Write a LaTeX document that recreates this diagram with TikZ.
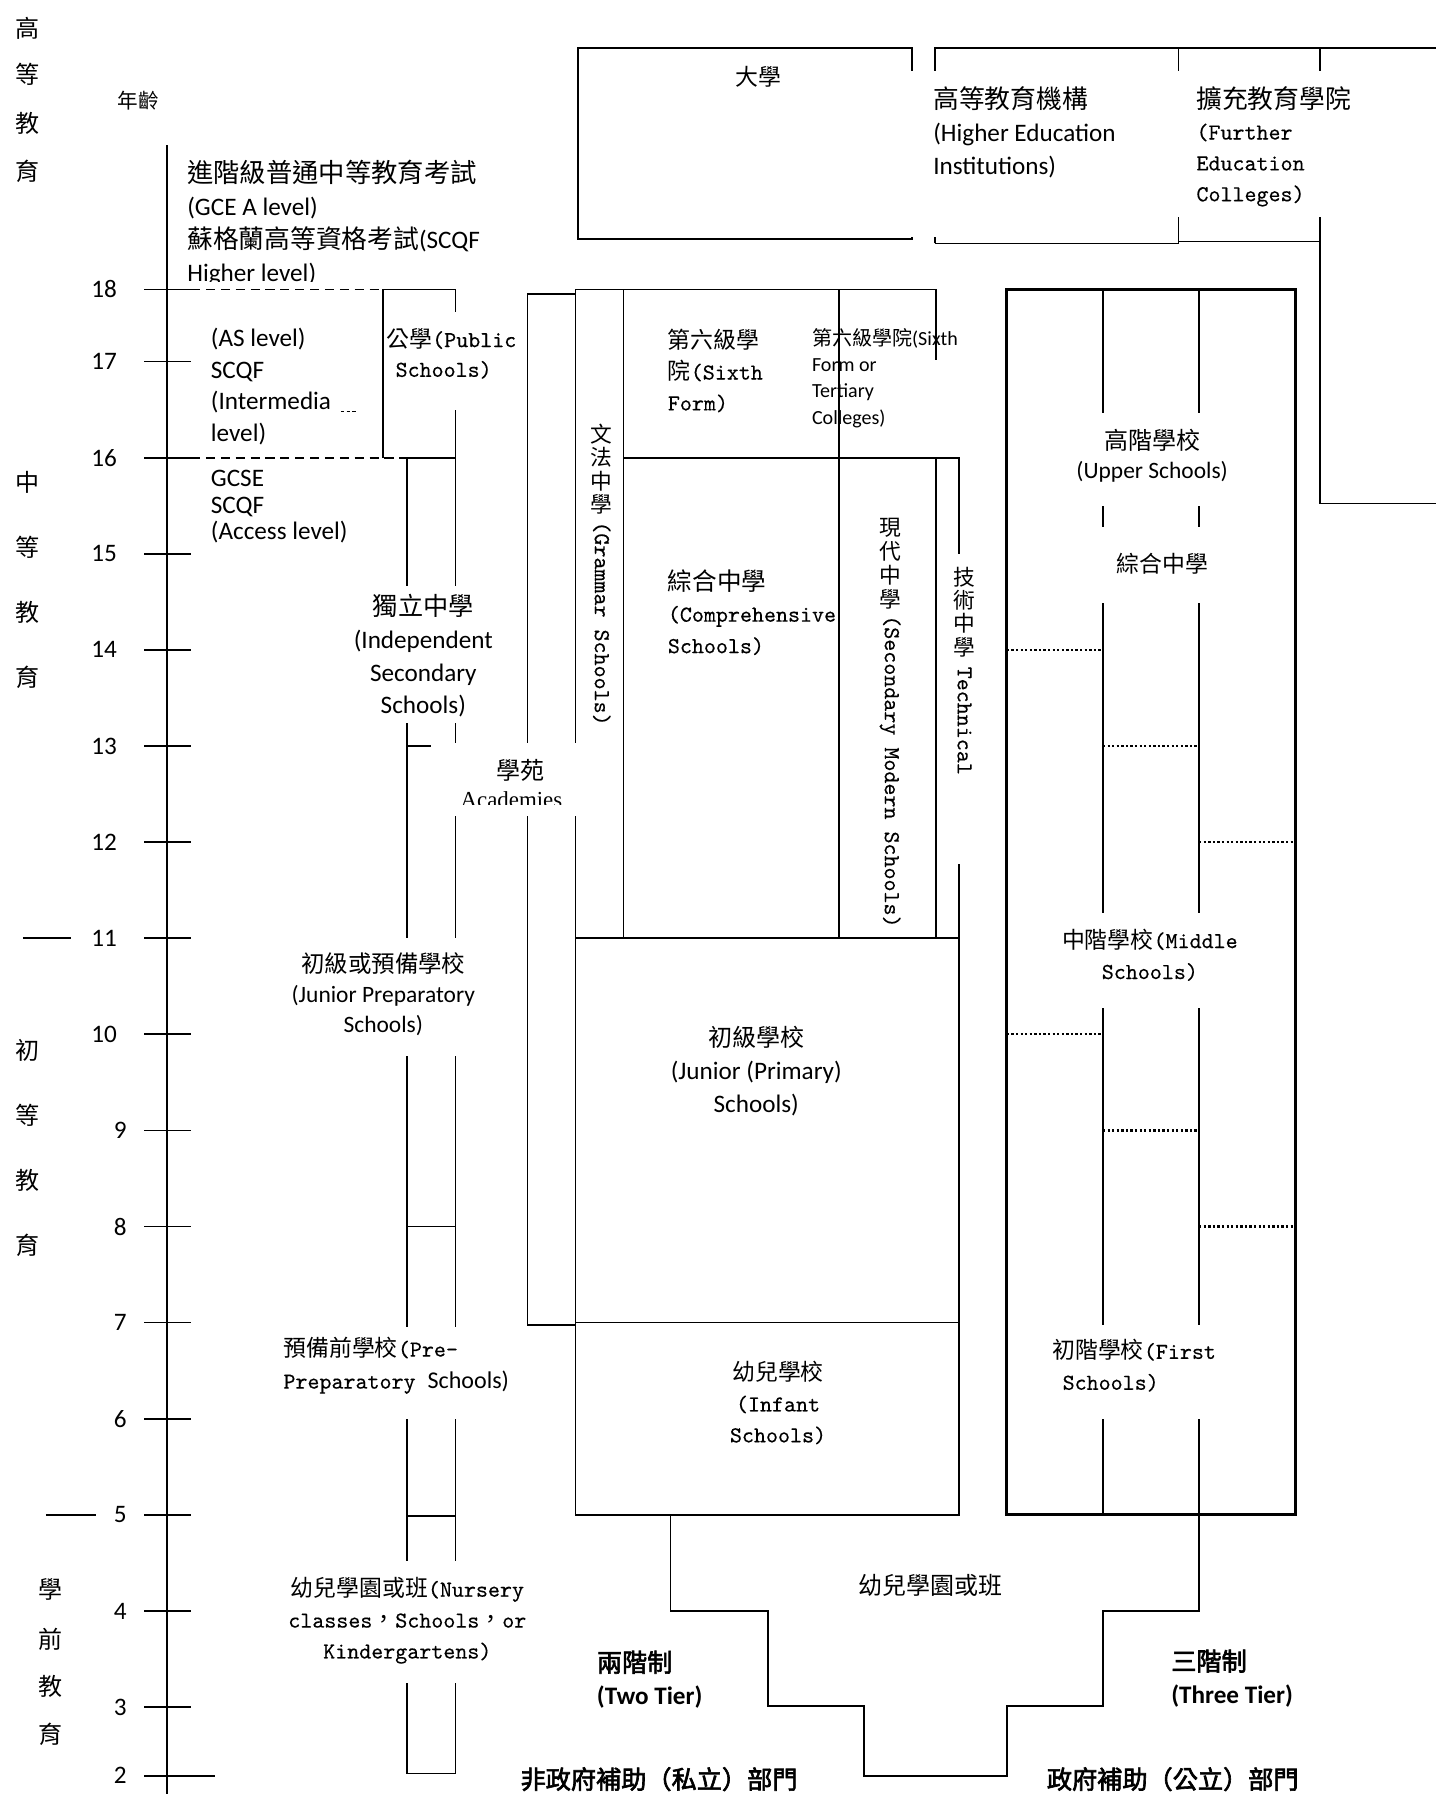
\documentclass[tikz,border=0pt]{standalone}
\usepackage{fontspec}
\setmainfont{Carlito}
\setmonofont[FakeBold=0.3]{lmmono10-regular.otf}
\newfontfamily\zh[AutoFakeBold=2.5]{Noto Sans CJK TC}
\newfontfamily\tms{Liberation Serif}

\begin{document}
\begin{tikzpicture}[
  x=1pt, y=-1pt,
  line width=1.5pt,
  dashln/.style={dash pattern=on 8pt off 5pt},
  dotln/.style={line width=2pt, dash pattern=on 2pt off 2pt},
  outerbox/.style={line width=2.4pt},
  txt/.style={inner sep=0pt, font=\fontsize{22}{28}\selectfont},
  mono/.style={inner sep=0pt, font=\fontsize{20}{27}\selectfont\ttfamily},
  cjk/.style={inner sep=0pt, font=\fontsize{21}{28}\selectfont\zh}
]
  \useasboundingbox (0,0) rectangle (1255,1568);

  % age axis
  \draw (146,127) -- (146,1568);
  \foreach \a/\y in {18/253,17/316,16/400,15/484,14/568,13/652,12/736,11/820,10/904}{
    \draw (126,\y) -- (167,\y);
    \node[txt] (age\a) at (91,\y) {\a};
  }
  \foreach \a/\y in {9/988,8/1072,7/1156,6/1240,5/1324,4/1408,3/1492}{
    \draw (126,\y) -- (167,\y);
    \node[txt] (age\a) at (105,\y) {\a};
  }
  \draw (126,1552) -- (188,1552);
  \node[txt] (age2) at (105,1552) {2};
  \draw (20,820) -- (62,820) (40,1324) -- (84,1324);

  \foreach \c/\x/\y in {高/24/25,等/24/65,教/24/108,育/24/150,中/24/422,等/24/478,教/24/535,育/24/592,
                        初/24/918,等/24/975,教/24/1032,育/24/1088,學/44/1389,前/44/1433,教/44/1474,育/44/1516}
    \node[cjk] (stage\y) at (\x,\y) {\c};

  \node[cjk, font=\fontsize{18}{18}\selectfont\zh] (agehead) at (121,88) {年齡};

  % independent sector
  \draw[dashln] (167,253) -- (335,253);
  \draw[dashln] (167,400) -- (352,400);
  \draw (335,253) -- (398,253) (352,400) -- (398,400) (335,253) -- (335,400);
  \draw (398,253) -- (398,1550) -- (356,1550) -- (356,400);
  \draw (356,652) -- (377,652) (356,1072) -- (398,1072) (356,1325) -- (398,1325);
  \draw[line width=1pt, dash pattern=on 3pt off 2pt] (298,360) -- (312,360);

  % academies
  \draw (503,257) -- (461,257) -- (461,1158) -- (503,1158);

  % two tier
  \draw (503,253) -- (818,253) (503,253) -- (503,1324) -- (838,1324) -- (838,400) -- (545,400);
  \draw (545,253) -- (545,820) (733,253) -- (733,820) (818,253) -- (818,315) (818,400) -- (818,820);
  \draw (503,820) -- (838,820) (503,1156) -- (838,1156);

  % three tier
  \draw[outerbox] (880,253) rectangle (1132,1324);
  \draw (964,253) -- (964,1324) (1048,253) -- (1048,1324);
  \foreach \xa/\y in {880/568,964/652,1048/736,880/904,964/988,1048/1072}
    \draw[dotln] (\xa,\y) -- ++(84,0);

  % nursery steps
  \draw (586,1324) |- (671,1408) |- (755,1491) |- (880,1552) |- (964,1491) |- (1048,1408) -- (1048,1324);

  % higher education
  \draw (505,42) rectangle (797,209);
  \draw (817,212.7) -- (817,42) -- (1255,42);
  \draw (817,212.7) -- (1030,212.7) -- (1030,42);
  \draw (1030,211) -- (1154,211);
  \draw (1154,42) -- (1154,440) -- (1255,440);

  % text boxes
  \fill[white] (338,273) rectangle (455,358);
  \fill[white] (300,512) rectangle (440,632);
  \fill[white] (395,649) rectangle (507,713);
  \fill[white] (250,820) rectangle (420,923);
  \fill[white] (240,1160) rectangle (455,1240);
  \fill[white] (240,1364) rectangle (470,1471);
  \fill[white] (822,484) rectangle (862,755);
  \fill[white] (930,361) rectangle (1085,442);
  \fill[white] (950,461) rectangle (1062,527);
  \fill[white] (925,798) rectangle (1090,881);
  \fill[white] (912,1158) rectangle (1075,1240);
  \fill[white] (795,62) rectangle (1026,207);
  \fill[white] (1026,62) rectangle (1190,190);

  \begin{scope}
    \clip (150,110) rectangle (520,246);
    \node[txt, anchor=north west, align=left, font=\fontsize{22}{29}\selectfont] (exam) at (163,139)
      {{\zh\fontsize{23}{29}\selectfont 進階級普通中等教育考試}\\(GCE A level)\\{\zh\fontsize{22.5}{29}\selectfont 蘇格蘭高等資格考試}(SCQF\\Higher level)};
  \end{scope}
  \node[txt, anchor=north west, align=left, font=\fontsize{22}{27.7}\selectfont] (aslevel) at (183.6,286)
    {(AS level)\\SCQF\\(Intermedia\\level)};
  \node[txt, anchor=north west, align=left, font=\fontsize{22}{23.4}\selectfont] (gcse) at (183.6,410)
    {GCSE\\SCQF\\(Access level)};

  \node[mono, anchor=north west, align=left, font=\fontsize{20}{26}\selectfont\ttfamily] (public) at (337,286)
    {{\zh 公學}(Public\\\hspace*{8pt}Schools)};
  \node[txt, anchor=north, align=center, font=\fontsize{22}{28.5}\selectfont] (indep) at (370,519)
    {{\zh 獨立中學}\\(Independent\\Secondary\\Schools)};
  \node[cjk] (acad) at (455,673) {學苑};
  \begin{scope}
    \clip (395,649) rectangle (507,703);
    \node[inner sep=0pt, font=\fontsize{20}{20}\selectfont\tms] (acaden) at (447,699) {Academies};
  \end{scope}
  \node[txt, anchor=north, align=center, font=\fontsize{20.5}{26}\selectfont] (jprep) at (335,832)
    {{\zh 初級或預備學校}\\(Junior Preparatory\\Schools)};
  \node[mono, anchor=north west, align=left, font=\fontsize{20}{28}\selectfont\ttfamily] (preprep) at (247,1168)
    {{\zh 預備前學校}(Pre-\\Preparatory {\rmfamily\fontsize{21}{28}\selectfont Schools)}};
  \node[mono, anchor=north, align=center] (nursery) at (356,1378)
    {{\zh 幼兒學園或班}(Nursery\\classes{\zh ，}Schools{\zh ，}or\\Kindergartens)};

  \node[cjk, anchor=north, align=center, font=\fontsize{19}{20.3}\selectfont\zh] (gramzh) at (526,370) {文\\法\\中\\學};
  \node[mono, rotate=-90, anchor=west] (gramen) at (526,455) {(Grammar Schools)};
  \node[mono, anchor=north west, align=left] (sixth) at (583,287) {{\zh 第六級學}\\{\zh 院}(Sixth\\Form)};
  \node[txt, anchor=north west, align=left, font=\fontsize{17.5}{23}\selectfont] (tertiary) at (709,286)
    {{\zh 第六級學院}(Sixth\\Form or\\Tertiary\\Colleges)};
  \node[mono, anchor=north west, align=left, font=\fontsize{20}{27.5}\selectfont\ttfamily] (compre) at (583,497)
    {{\zh\fontsize{21.5}{27.5}\selectfont 綜合中學}\\(Comprehensive\\Schools)};
  \node[cjk, anchor=north, align=center, font=\fontsize{19}{21}\selectfont\zh] (secmodzh) at (778,452) {現\\代\\中\\學};
  \node[mono, rotate=-90, anchor=west] (secmoden) at (778,537) {(Secondary Modern Schools)};
  \node[cjk, anchor=north, align=center, font=\fontsize{19}{20.3}\selectfont\zh] (techzh) at (843,495) {技\\術\\中\\學};
  \node[mono, rotate=-90, anchor=west] (techen) at (843,582) {Technical};
  \node[txt, anchor=north, align=center, font=\fontsize{22}{29}\selectfont] (primary) at (661,896)
    {{\zh\fontsize{21}{29}\selectfont 初級學校}\\(Junior (Primary)\\Schools)};
  \node[mono, anchor=north, align=center] (infant) at (680,1189) {{\zh 幼兒學校}\\(Infant\\Schools)};

  \node[txt, anchor=north, align=center, font=\fontsize{20.5}{26}\selectfont] (upper) at (1007,374)
    {{\zh\fontsize{21}{26}\selectfont 高階學校}\\(Upper Schools)};
  \node[cjk, font=\fontsize{20}{20}\selectfont\zh] (compre3) at (1016,493) {綜合中學};
  \node[mono, anchor=north, align=center] (middle) at (1005,811) {{\zh 中階學校}(Middle\\Schools)};
  \node[mono, anchor=north west, align=left] (first) at (919,1170) {{\zh 初階學校}(First\\\hspace*{9pt}Schools)};

  \node[cjk] (nursery3) at (813,1386) {幼兒學園或班};
  \node[txt, anchor=north west, align=left, font=\fontsize{22}{29}\selectfont\bfseries] (twotier) at (521,1442)
    {{\zh 兩階制}\\(Two Tier)};
  \node[txt, anchor=north west, align=left, font=\fontsize{22}{29}\selectfont\bfseries] (threetier) at (1023,1441)
    {{\zh 三階制}\\(Three Tier)};
  \node[cjk, font=\fontsize{22}{22}\selectfont\zh\bfseries] (private) at (576,1555) {非政府補助（私立）部門};
  \node[cjk, font=\fontsize{22}{22}\selectfont\zh\bfseries] (state) at (1025,1555) {政府補助（公立）部門};

  \node[cjk, font=\fontsize{20}{20}\selectfont\zh] (uni) at (663,67) {大學};
  \node[txt, anchor=north west, align=left, font=\fontsize{22}{29}\selectfont] (hei) at (815,75)
    {{\zh\fontsize{22.5}{29}\selectfont 高等教育機構}\\(Higher Education\\Institutions)};
  \node[mono, anchor=north west, align=left] (fec) at (1045,75)
    {{\zh\fontsize{22.5}{27}\selectfont 擴充教育學院}\\(Further\\Education\\Colleges)};
\end{tikzpicture}
\end{document}
